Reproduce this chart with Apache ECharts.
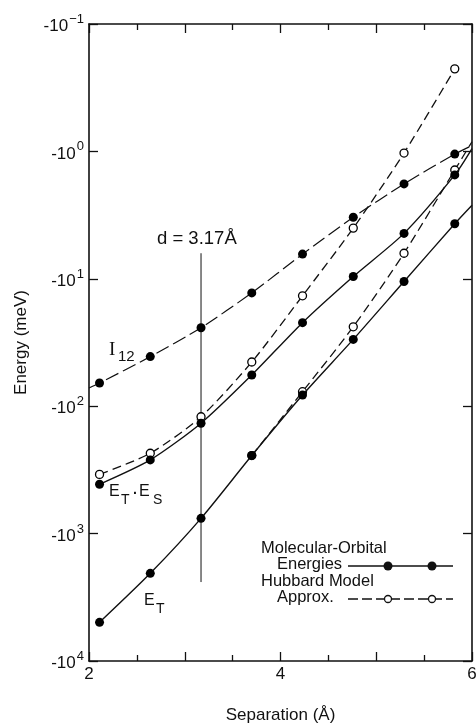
<!DOCTYPE html>
<html>
<head>
<meta charset="utf-8">
<script src="https://cdn.jsdelivr.net/npm/echarts@6/dist/echarts.min.js"></script>
<style>
html, body { margin: 0; padding: 0; background: #fff; }
#chart { width: 476px; height: 724px; }
</style>
</head>
<body>
<div id="chart"></div>
<script>
// separations (Å) where the energies were computed
const separation = [2.11, 2.64, 3.17, 3.70, 4.23, 4.76, 5.29, 5.82];
// magnitudes of the (negative) energies, meV
const i12MO = [65.8, 40.8, 24.2, 12.9, 6.4, 3.29, 1.80, 1.05];
const etesMO = [410, 264, 136, 56.9, 22.1, 9.6, 4.4, 1.53];
const etesHub = [343, 234, 121, 45, 13.6, 4.0, 1.03, 0.225];
const etMO = [4970, 2050, 759, 244, 81.7, 29.9, 10.5, 3.7];
const etHubSep = [3.70, 4.23, 4.76, 5.29, 5.82];
const etHub = [244, 76.9, 23.8, 6.3, 1.40];
// where curves run out of the frame
const i12Left = [2.0, 72];
const i12Right = [6.0, 0.9];
const etesRight = [6.0, 0.95];
const etHubRight = [6.0, 0.84];
const etRight = [6.0, 2.65];
// d = 3.17 marker line
const dLine = [[3.17, 6.3], [3.17, 2400]];

const FONT = '"Liberation Sans", Arial, sans-serif';
const SERIF = '"Liberation Serif", "Times New Roman", serif';

function pts(xs, ys) {
    return xs.map((x, i) => [x, ys[i]]);
}
function edge(p) {
    return { value: p, symbol: 'none' };
}

const filled = { symbol: 'circle', symbolSize: 9, itemStyle: { color: '#000' } };
const open = { symbol: 'circle', symbolSize: 8, itemStyle: { color: '#fff', borderColor: '#000', borderWidth: 1.3 } };

const chart = echarts.init(document.getElementById('chart'));

const tickFmt = v => {
    const p = Math.round(Math.log10(v));
    return '{b|-10}{s|' + (p < 0 ? '\u22121' : p) + '}';
};

const option = {
    animation: false,
    backgroundColor: '#fff',
    grid: { left: 89, right: 4, top: 24, bottom: 63, outerBoundsMode: 'none' },
    xAxis: [
        {
            type: 'value', min: 2, max: 6, interval: 1,
            name: 'Separation (\u00c5)', nameLocation: 'middle', nameGap: 46,
            nameTextStyle: { fontFamily: FONT, fontSize: 17, color: '#111' },
            axisLine: { lineStyle: { color: '#111', width: 1.6 } },
            axisTick: { inside: true, length: 9, lineStyle: { color: '#111', width: 1.3 } },
            minorTick: { show: true, splitNumber: 2, length: 6, lineStyle: { color: '#111', width: 1.3 } },
            axisLabel: {
                fontFamily: FONT, fontSize: 17, color: '#111', margin: 5,
                formatter: v => (v % 2 === 0 ? String(v) : '')
            },
            splitLine: { show: false }
        },
        {
            type: 'value', min: 2, max: 6, interval: 1, position: 'top',
            axisLine: { lineStyle: { color: '#111', width: 1.6 } },
            axisTick: { inside: true, length: 9, lineStyle: { color: '#111', width: 1.3 } },
            minorTick: { show: true, splitNumber: 2, length: 6, lineStyle: { color: '#111', width: 1.3 } },
            axisLabel: { show: false },
            splitLine: { show: false }
        }
    ],
    yAxis: [
        {
            type: 'log', logBase: 10, min: 0.1, max: 10000, inverse: true,
            name: 'Energy (meV)', nameLocation: 'middle', nameGap: 59,
            nameTextStyle: { fontFamily: FONT, fontSize: 17, color: '#111' },
            axisLine: { show: true, lineStyle: { color: '#111', width: 1.6 } },
            axisTick: { show: true, inside: true, length: 9, lineStyle: { color: '#111', width: 1.3 } },
            axisLabel: {
                margin: 5, formatter: tickFmt,
                rich: {
                    b: { fontFamily: FONT, fontSize: 17, color: '#111', lineHeight: 22, verticalAlign: 'bottom' },
                    s: { fontFamily: FONT, fontSize: 13, color: '#111', lineHeight: 22, verticalAlign: 'top', padding: [0, 0, 0, 1] }
                }
            },
            splitLine: { show: false }
        },
        {
            type: 'log', logBase: 10, min: 0.1, max: 10000, inverse: true, position: 'right',
            axisLine: { show: true, lineStyle: { color: '#111', width: 1.6 } },
            axisTick: { show: true, inside: true, length: 9, lineStyle: { color: '#111', width: 1.3 } },
            axisLabel: { show: false },
            splitLine: { show: false }
        }
    ],
    series: [
        {
            name: 'd', type: 'line', data: dLine, symbol: 'none',
            lineStyle: { color: '#111', width: 1 }, z: 1
        },
        {
            name: 'ET-ES Hubbard', type: 'line', smooth: 0.25, ...open,
            data: pts(separation, etesHub),
            lineStyle: { color: '#111', width: 1.3, type: [9, 5] }, z: 2
        },
        {
            name: 'ET Hubbard', type: 'line', smooth: 0.25, ...open,
            data: pts(etHubSep, etHub).concat([edge(etHubRight)]),
            lineStyle: { color: '#111', width: 1.3, type: [9, 5] }, z: 2
        },
        {
            name: 'I12', type: 'line', smooth: 0.25, ...filled,
            data: [edge(i12Left)].concat(pts(separation, i12MO), [edge(i12Right)]),
            lineStyle: { color: '#111', width: 1.2, type: [14, 5] }, z: 3
        },
        {
            name: 'ET-ES MO', type: 'line', smooth: 0.25, ...filled,
            data: pts(separation, etesMO).concat([edge(etesRight)]),
            lineStyle: { color: '#111', width: 1.4 }, z: 3
        },
        {
            name: 'ET MO', type: 'line', smooth: 0.25, ...filled,
            data: pts(separation, etMO).concat([edge(etRight)]),
            lineStyle: { color: '#111', width: 1.4 }, z: 3
        }
    ],
    graphic: [
        // curve labels
        { type: 'text', left: 109, top: 341, style: { text: 'I', font: '19px ' + SERIF, fill: '#111' } },
        { type: 'text', left: 118, top: 349, style: { text: '12', font: '15px ' + FONT, fill: '#111' } },
        { type: 'text', left: 109, top: 484, style: { text: 'E', font: '16px ' + FONT, fill: '#111' } },
        { type: 'text', left: 121, top: 493, style: { text: 'T', font: '14px ' + FONT, fill: '#111' } },
        { type: 'text', left: 133, top: 487, style: { text: '\u00b7', font: 'bold 14px ' + FONT, fill: '#111' } },
        { type: 'text', left: 139, top: 484, style: { text: 'E', font: '16px ' + FONT, fill: '#111' } },
        { type: 'text', left: 153, top: 493, style: { text: 'S', font: '14px ' + FONT, fill: '#111' } },
        { type: 'text', left: 144, top: 593, style: { text: 'E', font: '16px ' + FONT, fill: '#111' } },
        { type: 'text', left: 156, top: 602, style: { text: 'T', font: '14px ' + FONT, fill: '#111' } },
        { type: 'text', left: 157, top: 229, style: { text: 'd = 3.17\u00c5', font: '18.5px ' + FONT, fill: '#111' } },
        // legend
        { type: 'text', left: 261, top: 540, style: { text: 'Molecular-Orbital', font: '16.5px ' + FONT, fill: '#111' } },
        { type: 'text', left: 277, top: 556, style: { text: 'Energies', font: '16.5px ' + FONT, fill: '#111' } },
        { type: 'line', shape: { x1: 348, y1: 566, x2: 453, y2: 566 }, style: { stroke: '#111', lineWidth: 1.3 } },
        { type: 'circle', shape: { cx: 388, cy: 566, r: 4.5 }, style: { fill: '#111' } },
        { type: 'circle', shape: { cx: 432, cy: 566, r: 4.5 }, style: { fill: '#111' } },
        { type: 'text', left: 261, top: 573, style: { text: 'Hubbard Model', font: '16.5px ' + FONT, fill: '#111' } },
        { type: 'text', left: 277, top: 589, style: { text: 'Approx.', font: '16.5px ' + FONT, fill: '#111' } },
        { type: 'line', shape: { x1: 348, y1: 599, x2: 453, y2: 599 }, style: { stroke: '#111', lineWidth: 1.3, lineDash: [10, 4] } },
        { type: 'circle', shape: { cx: 388, cy: 599, r: 3.5 }, style: { fill: '#fff', stroke: '#111', lineWidth: 1.3 } },
        { type: 'circle', shape: { cx: 432, cy: 599, r: 3.5 }, style: { fill: '#fff', stroke: '#111', lineWidth: 1.3 } }
    ]
};

chart.setOption(option);
</script>
</body>
</html>
